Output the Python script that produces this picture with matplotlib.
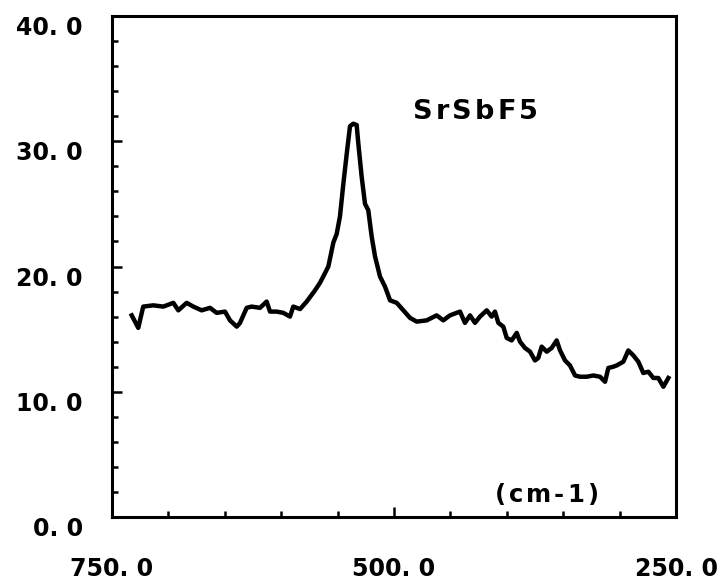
import matplotlib
matplotlib.use("Agg")
import matplotlib.pyplot as plt
from matplotlib.ticker import MultipleLocator, FixedLocator, FixedFormatter

wavenumber = [732.5, 726.7, 722.3, 713.4, 704.5, 695.6, 691.2, 683.8, 677.9, 670.5,
              663.1, 657.2, 649.8, 645.4, 639.4, 636.5, 630.6, 626.2, 618.8, 612.9,
              609.9, 604.0, 598.1, 592.2, 589.3, 583.3, 577.4, 570.0, 565.6, 562.7,
              558.2, 553.8, 550.8, 547.9, 544.9, 541.9, 539.0, 536.1, 533.1, 531.6,
              528.7, 525.7, 522.8, 519.8, 516.8, 512.4, 508.0, 503.5, 497.6, 491.7,
              485.8, 479.9, 471.0, 462.2, 456.3, 450.4, 441.5, 437.1, 432.6, 428.2,
              423.8, 417.8, 413.4, 410.5, 407.5, 403.1, 400.1, 395.7, 391.2, 388.3,
              383.9, 379.4, 375.0, 372.1, 369.1, 364.6, 360.2, 355.8, 352.8, 348.4,
              344.0, 339.5, 335.1, 329.2, 323.3, 317.4, 312.9, 310.0, 305.6, 302.6,
              296.7, 292.3, 287.8, 283.4, 279.0, 274.5, 270.1, 265.7, 261.2, 256.8]
intensity = [16.1, 15.1, 16.8, 16.9, 16.8, 17.1, 16.5, 17.1, 16.8, 16.5,
             16.7, 16.3, 16.4, 15.7, 15.2, 15.5, 16.7, 16.8, 16.7, 17.2,
             16.4, 16.4, 16.3, 16.0, 16.8, 16.6, 17.2, 18.1, 18.7, 19.2,
             20.0, 21.9, 22.6, 24.0, 26.6, 29.0, 31.2, 31.4, 31.3, 29.8,
             27.2, 25.0, 24.5, 22.4, 20.8, 19.2, 18.4, 17.3, 17.1, 16.5,
             15.9, 15.6, 15.7, 16.1, 15.7, 16.1, 16.4, 15.5, 16.1, 15.5,
             16.0, 16.5, 16.0, 16.4, 15.5, 15.2, 14.3, 14.1, 14.7, 14.0,
             13.5, 13.2, 12.5, 12.7, 13.6, 13.2, 13.5, 14.1, 13.3, 12.5,
             12.1, 11.3, 11.2, 11.2, 11.3, 11.2, 10.8, 11.9, 12.0, 12.1,
             12.4, 13.3, 12.9, 12.4, 11.5, 11.6, 11.1, 11.1, 10.4, 11.1]

x_ticks = [750, 500, 250]
x_ticklabels = ['750. 0', '500. 0', '250. 0']
y_ticks = [0, 10, 20, 30, 40]
y_ticklabels = ['0. 0', '10. 0', '20. 0', '30. 0', '40. 0']
sample_label = 'SrSbF5'
unit_label = '(cm-1)'

FONT = 'DejaVu Sans'


def lettered(fig, ax, s, left, yc, width, size):
    # plotter-style lettering: glyphs spread evenly over a given width (axes fraction)
    r = fig.canvas.get_renderer()
    axw = ax.get_window_extent(r).width
    texts = [ax.text(0, yc, ch, transform=ax.transAxes, ha='left', va='center',
                     family=FONT, fontweight='bold', fontsize=size) for ch in s]
    ws = [t.get_window_extent(r).width / axw for t in texts]
    gap = (width - sum(ws)) / (len(s) - 1)
    x = left
    for t, w in zip(texts, ws):
        t.set_x(x)
        x += w + gap


fig = plt.figure(figsize=(7.22, 5.84), dpi=100)
ax = fig.add_axes([0.1551, 0.1147, 0.7812, 0.8579])

ax.plot(wavenumber, intensity, color='black', lw=3.2, solid_joinstyle='round')

ax.set_xlim(750, 250)
ax.set_ylim(0, 40)

ax.xaxis.set_major_locator(FixedLocator(x_ticks))
ax.xaxis.set_major_formatter(FixedFormatter(x_ticklabels))
ax.xaxis.set_minor_locator(MultipleLocator(50))
ax.yaxis.set_major_locator(FixedLocator(y_ticks))
ax.yaxis.set_major_formatter(FixedFormatter(y_ticklabels))
ax.yaxis.set_minor_locator(MultipleLocator(2))

ax.tick_params(which='both', direction='in', top=False, right=False, width=1.8, color='black')
ax.tick_params(which='major', length=7)
ax.tick_params(which='minor', length=4)
ax.tick_params(axis='x', which='major', pad=29)
ax.tick_params(axis='y', which='major', pad=21)

for lab in ax.get_xticklabels() + ax.get_yticklabels():
    lab.set_family(FONT)
    lab.set_fontweight('bold')
    lab.set_fontsize(17)
for lab in ax.get_yticklabels():
    lab.set_va('top')

for sp in ax.spines.values():
    sp.set_linewidth(2.2)

lettered(fig, ax, sample_label, 0.534, 0.808, 0.2216, 19.5)
lettered(fig, ax, unit_label, 0.679, 0.044, 0.1826, 17.5)

fig.savefig('out.png', dpi=100)
